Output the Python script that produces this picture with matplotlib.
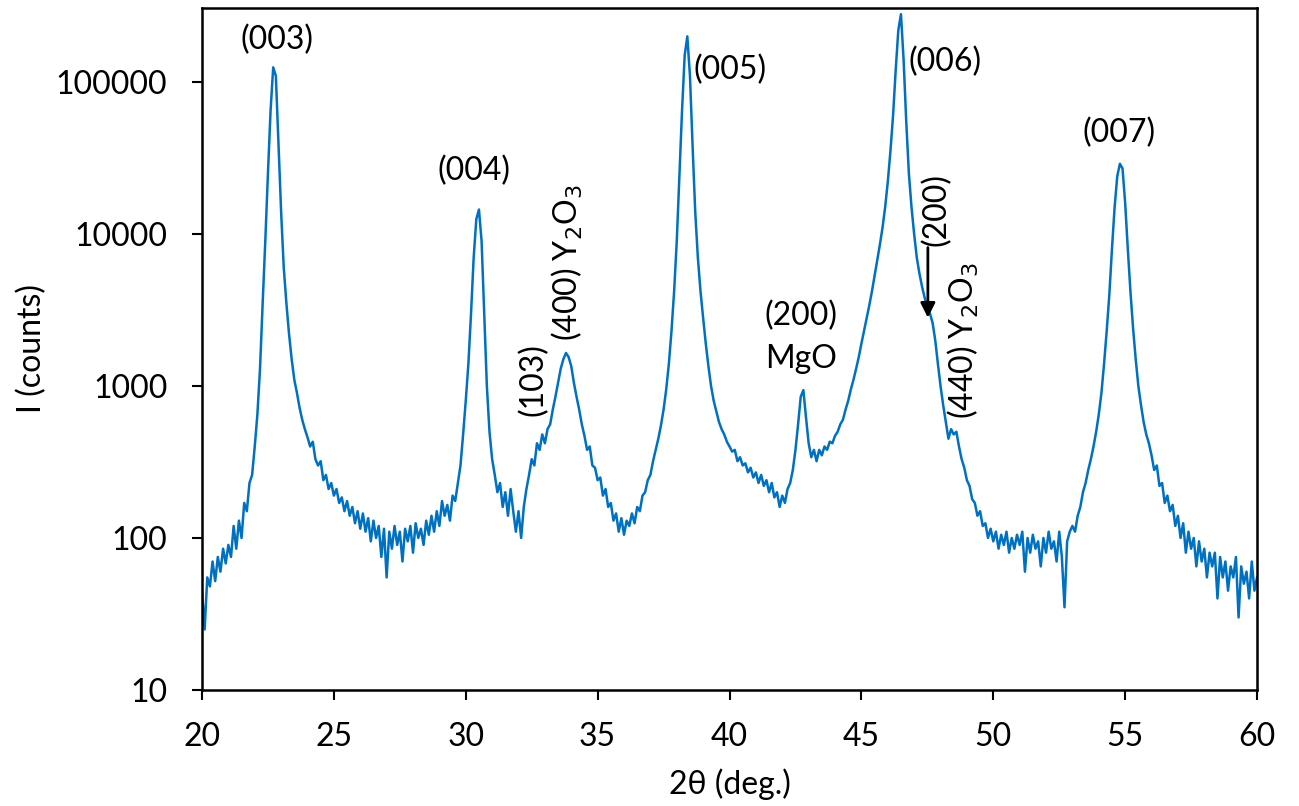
import matplotlib
matplotlib.use("Agg")
import matplotlib.pyplot as plt
from matplotlib.ticker import FixedLocator, FuncFormatter, NullLocator
import numpy as np

plt.rcParams['font.family'] = ['Lato', 'DejaVu Sans']

# 2theta grid: 20.0 .. 60.0 step 0.1
two_theta_start = 20.0
two_theta_step = 0.1
counts = [
    # 20.0 - 20.9
    45, 25, 55, 48, 70, 52, 75, 60, 85, 68,
    # 21.0 - 21.9
    90, 75, 120, 85, 130, 100, 170, 150, 230, 260,
    # 22.0 - 22.9
    400, 650, 1300, 3500, 9000, 25000, 65000, 125000, 110000, 40000,
    # 23.0 - 23.9
    14000, 6000, 3500, 2200, 1500, 1100, 900, 720, 600, 520,
    # 24.0 - 24.9
    460, 400, 430, 330, 300, 320, 240, 260, 210, 230,
    # 25.0 - 25.9
    190, 210, 170, 185, 150, 175, 140, 160, 125, 150,
    # 26.0 - 26.9
    115, 145, 110, 135, 95, 130, 100, 120, 75, 115,
    # 27.0 - 27.9
    55, 110, 85, 120, 90, 110, 70, 115, 95, 120,
    # 28.0 - 28.9
    80, 125, 100, 115, 90, 130, 105, 140, 110, 150,
    # 29.0 - 29.9
    120, 175, 140, 165, 130, 190, 175, 230, 300, 480,
    # 30.0 - 30.9
    800, 1400, 3000, 7000, 12500, 14500, 9000, 3000, 1000, 500,
    # 31.0 - 31.9
    330, 260, 200, 230, 160, 200, 140, 210, 150, 110,
    # 32.0 - 32.9
    150, 100, 160, 210, 260, 330, 300, 420, 380, 480,
    # 33.0 - 33.9
    420, 520, 560, 700, 850, 1050, 1300, 1500, 1650, 1550,
    # 34.0 - 34.9
    1350, 1050, 850, 700, 560, 470, 380, 400, 300, 290,
    # 35.0 - 35.9
    240, 250, 190, 210, 160, 170, 130, 145, 110, 135,
    # 36.0 - 36.9
    105, 130, 120, 145, 125, 160, 150, 190, 200, 240,
    # 37.0 - 37.9
    260, 320, 380, 450, 550, 700, 950, 1400, 2300, 4200,
    # 38.0 - 38.9
    9000, 24000, 65000, 150000, 200000, 110000, 38000, 14000, 7000, 4200,
    # 39.0 - 39.9
    2800, 1900, 1350, 1000, 800, 680, 580, 520, 480, 430,
    # 40.0 - 40.9
    400, 370, 380, 320, 340, 300, 310, 270, 290, 250,
    # 41.0 - 41.9
    270, 230, 260, 220, 240, 200, 230, 185, 200, 160,
    # 42.0 - 42.9
    190, 170, 210, 230, 280, 380, 560, 850, 940, 620,
    # 43.0 - 43.9
    420, 340, 380, 320, 380, 350, 400, 380, 430, 420,
    # 44.0 - 44.9
    470, 500, 560, 600, 700, 800, 950, 1100, 1300, 1550,
    # 45.0 - 45.9
    1900, 2300, 2800, 3400, 4200, 5300, 6700, 8500, 11000, 15000,
    # 46.0 - 46.9
    22000, 35000, 60000, 120000, 220000, 280000, 140000, 55000, 25000, 15000,
    # 47.0 - 47.9
    10000, 7000, 5500, 4500, 3800, 3300, 3000, 2600, 2000, 1400,
    # 48.0 - 48.9
    1000, 750, 580, 450, 520, 480, 500, 400, 330, 290,
    # 49.0 - 49.9
    240, 220, 180, 170, 140, 150, 120, 125, 100, 115,
    # 50.0 - 50.9
    95, 110, 85, 105, 90, 110, 80, 100, 85, 105,
    # 51.0 - 51.9
    90, 110, 60, 100, 80, 105, 85, 95, 65, 100,
    # 52.0 - 52.9
    80, 110, 85, 95, 70, 110, 75, 35, 95, 110,
    # 53.0 - 53.9
    120, 110, 140, 160, 200, 230, 280, 330, 400, 500,
    # 54.0 - 54.9
    650, 900, 1400, 2300, 4000, 8000, 15000, 24000, 29000, 27000,
    # 55.0 - 55.9
    16000, 8000, 4200, 2400, 1500, 1000, 750, 580, 480, 420,
    # 56.0 - 56.9
    350, 280, 300, 220, 230, 170, 190, 150, 165, 120,
    # 57.0 - 57.9
    140, 100, 125, 80, 110, 85, 100, 65, 95, 70,
    # 58.0 - 58.9
    85, 55, 80, 65, 80, 40, 75, 55, 70, 45,
    # 59.0 - 60.0
    65, 55, 75, 30, 65, 50, 60, 40, 70, 45, 55,
]
two_theta = [two_theta_start + i * two_theta_step for i in range(len(counts))]

x_ticks = [20, 25, 30, 35, 40, 45, 50, 55, 60]
y_ticks = [10, 100, 1000, 10000, 100000]

fig = plt.figure(figsize=(12.99, 8.06), dpi=100)
ax = fig.add_axes([0.1555, 0.144, 0.8122, 0.846])
ax.plot(two_theta, counts, color='#0070C0', lw=1.8)
ax.set_yscale('log')
ax.set_xlim(20, 60)
ax.set_ylim(10, 3.07e5)
ax.xaxis.set_major_locator(FixedLocator(x_ticks))
ax.yaxis.set_major_locator(FixedLocator(y_ticks))
ax.yaxis.set_minor_locator(NullLocator())
ax.yaxis.set_major_formatter(FuncFormatter(lambda v, p: f"{int(round(v))}"))
ax.tick_params(axis='both', direction='out', length=7, width=1.5, labelsize=23)
ax.tick_params(axis='x', pad=16)
ax.tick_params(axis='y', pad=18)
for s in ax.spines.values():
    s.set_linewidth(1.8)
ax.set_xlabel('2θ (deg.)', fontsize=23, labelpad=12)
ax.set_ylabel('I (counts)', fontsize=23, labelpad=6)

fs = 23
ax.text(22.85, 1.9e5, '(003)', fontsize=fs, ha='center', va='center')
ax.text(30.3, 2.6e4, '(004)', fontsize=fs, ha='center', va='center')
ax.text(32.55, 1.1e3, '(103)', fontsize=fs, ha='center', va='center', rotation=90)
ax.text(33.85, 6.5e3, '(400) Y$_2$O$_3$', fontsize=fs, ha='center', va='center', rotation=90)
ax.text(38.65, 1.2e5, '(005)', fontsize=fs, ha='left', va='center')
ax.text(42.7, 2.9e3, '(200)', fontsize=fs, ha='center', va='center')
ax.text(42.7, 1.5e3, 'MgO', fontsize=fs, ha='center', va='center')
ax.text(46.8, 1.35e5, '(006)', fontsize=fs, ha='left', va='center')
ax.text(47.85, 1.45e4, '(200)', fontsize=fs, ha='center', va='center', rotation=90)
ax.annotate('', xy=(47.52, 2.7e3), xytext=(47.52, 8.5e3),
            arrowprops=dict(arrowstyle='-|>', color='black', lw=2, mutation_scale=22))
ax.text(48.85, 2.0e3, '(440) Y$_2$O$_3$', fontsize=fs, ha='center', va='center', rotation=90)
ax.text(54.75, 4.6e4, '(007)', fontsize=fs, ha='center', va='center')

fig.savefig('out.png', dpi=100)
